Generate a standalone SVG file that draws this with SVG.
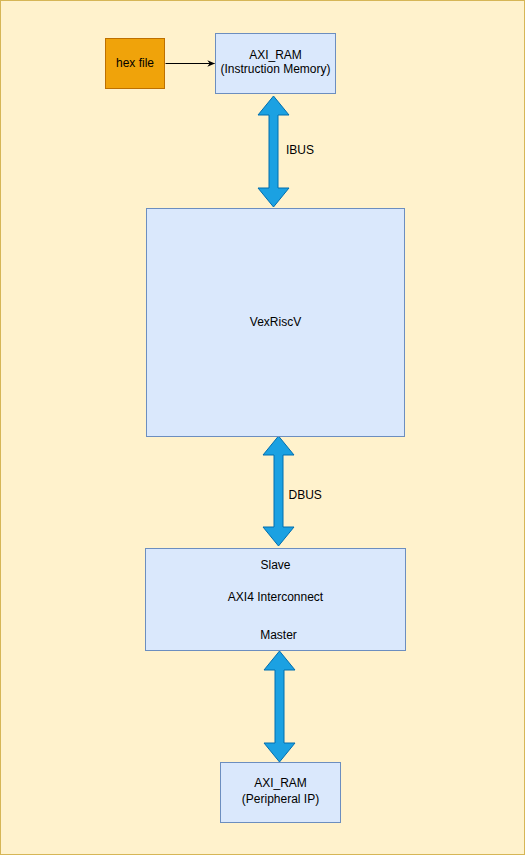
<svg xmlns="http://www.w3.org/2000/svg" width="525" height="855" viewBox="0 0 525 855">
<style>
.box{fill:#dae8fc;stroke:#6c8ebf;stroke-width:1}
.t{font-family:"Liberation Sans",Arial,sans-serif;font-size:12px;fill:#000;text-anchor:middle}
.tl{font-family:"Liberation Sans",Arial,sans-serif;font-size:12px;fill:#000}
.bus{fill:#1ba1e2;stroke:#006eaf;stroke-width:1;stroke-linejoin:miter}
</style>
<defs>
<marker id="ah" viewBox="0 0 10 10" refX="9" refY="5" markerWidth="8" markerHeight="8" markerUnits="userSpaceOnUse" orient="auto">
<path d="M0,1 L10,5 L0,9 L3,5 Z" fill="#000"/>
</marker>
</defs>
<rect x="0.5" y="0.5" width="524" height="854" fill="#fff2cc" stroke="#d6b656"/>
<g id="connectors">
<line x1="165.5" y1="63.5" x2="214.5" y2="63.5" stroke="#000" stroke-width="1" marker-end="url(#ah)"/>
<polygon class="bus" points="273.5,96 289,115 278,115 278,188 289,188 273.5,207 258,188 269,188 269,115 258,115"/>
<polygon class="bus" points="278.5,436 294,455 283,455 283,527 294,527 278.5,546 263,527 274,527 274,455 263,455"/>
<polygon class="bus" points="279.5,651 295,670 284,670 284,743 295,743 279.5,762 264,743 275,743 275,670 264,670"/>
<text class="tl" x="286" y="153.5">IBUS</text>
<text class="tl" x="288.5" y="498.5">DBUS</text>
</g>
<g id="hexfile">
<rect x="105.5" y="38.5" width="59" height="50" fill="#f0a30a" stroke="#bd7000"/>
<text class="t" x="135" y="67">hex file</text>
</g>
<g id="axi_ram_instr">
<rect class="box" x="215.5" y="33.5" width="120" height="60"/>
<text class="t" x="275.5" y="59">AXI_RAM</text>
<text class="t" x="275.5" y="73">(Instruction Memory)</text>
</g>
<g id="vexriscv">
<rect class="box" x="146.5" y="208.5" width="258" height="228"/>
<text class="t" x="275.5" y="326">VexRiscV</text>
</g>
<g id="interconnect">
<rect class="box" x="145.5" y="548.5" width="260" height="102"/>
<text class="t" x="275.5" y="569">Slave</text>
<text class="t" x="275.5" y="601">AXI4 Interconnect</text>
<text class="t" x="278.5" y="639">Master</text>
</g>
<g id="axi_ram_periph">
<rect class="box" x="220.5" y="762.5" width="120" height="60"/>
<text class="t" x="280.5" y="787">AXI_RAM</text>
<text class="t" x="280.5" y="803">(Peripheral IP)</text>
</g>
</svg>
